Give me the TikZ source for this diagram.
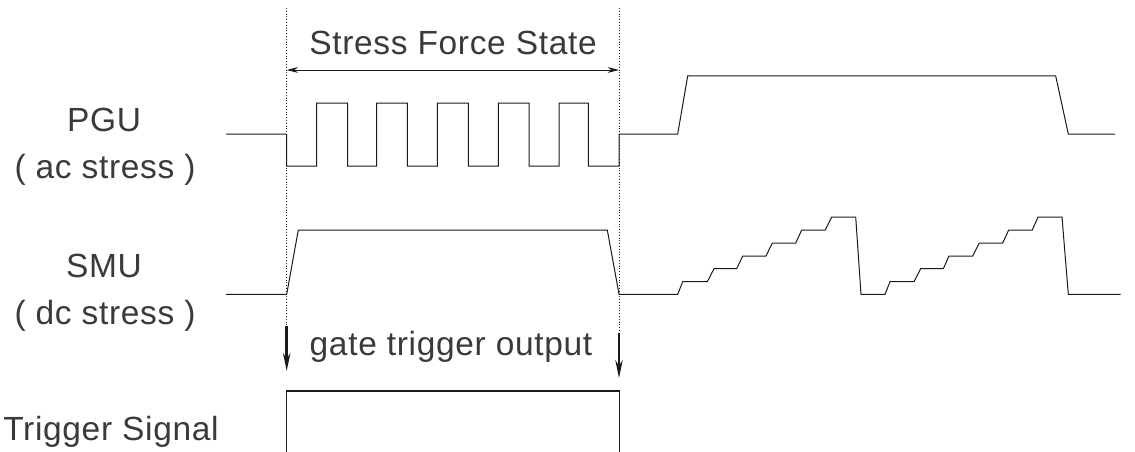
\documentclass[tikz,border=0pt]{standalone}
\usepackage{fontspec}
\setmainfont{Liberation Sans}[LetterSpace=2]
\usepackage{tikz}
\usetikzlibrary{arrows.meta,positioning}
\definecolor{Wave}{HTML}{1A1A1A}
\definecolor{Label}{HTML}{3A3A3A}
\tikzset{
  wave/.style={draw=Wave, line width=1pt, line join=miter},
  guide/.style={draw=Wave, line width=.8pt, dotted},
  span/.style={{Stealth[length=4mm,width=2mm]}-{Stealth[length=4mm,width=2mm]},line width=.9pt,draw=Wave},
  trig/.style={-{Stealth[length=6.3mm,width=2.6mm]},line width=2.5pt,draw=Wave},
  lbl/.style={font=\fontsize{33.5}{36}\selectfont,text=Label,inner sep=0pt}
}
\begin{document}
\begin{tikzpicture}[x=1pt,y=-1pt]
  \useasboundingbox (0,0) rectangle (1135,452);
  % guide lines of the stress window
  \coordinate (Ltop) at (286.7,8);
  \coordinate (Rtop) at (619,8);
  \coordinate (Lbot) at (286.7,326);
  \coordinate (Rbot) at (619,333);
  \coordinate (Lspan) at (286.7,70);
  \coordinate (Rspan) at (619,70);
  \coordinate (Ltip) at (286.7,371);
  \coordinate (Rtip) at (619,378);
  \draw[guide] (Ltop)--(Lbot);
  \draw[guide] (Rtop)--(Rbot);
  \draw[span] (Lspan)--(Rspan);
  \node[lbl] (state) at (453,43) {Stress Force State};
  % channel labels
  \node[lbl] (pgu) at (104,120) {PGU};
  \node[lbl] (ac) at (105,170) {( ac stress )};
  \node[lbl] (smu) at (104,266) {SMU};
  \node[lbl] (dc) at (105,316) {( dc stress )};
  \node[lbl] (trg) at (111,432) {Trigger Signal};
  % PGU waveform
  \draw[wave] (226,134)--(286.7,134)--(286.7,166)--(316.7,166)--(316.7,103)--(347.7,103)
    --(347.7,166)--(376.7,166)--(376.7,103)--(407.3,103)--(407.3,166)--(437.3,166)
    --(437.3,103)--(468.3,103)--(468.3,166)--(498.3,166)--(498.3,103)--(529,103)
    --(529,166)--(559,166)--(559,103)--(588.3,103)--(588.3,166)--(619,166)
    --(619,134)--(677.7,134)--(687.7,76)--(1055.7,76)--(1068.3,134)--(1115,134);
  % SMU waveform
  \draw[wave] (226,294.3)--(286.7,294.3)--(298.3,230)--(607.3,230)--(619,294.3)
    --(677.7,294.3)--(682.7,281.7)--(707.3,281.7)--(714,268.7)--(736.7,268.7)
    --(742.7,256)--(766,256)--(772.3,243)--(795.7,243)--(801.7,230)--(825.3,230)
    --(831.7,217)--(855.7,217)--(861,294.3)--(885,294.3)--(890,281.7)--(914,281.7)
    --(920.7,268.7)--(943.3,268.7)--(949,256)--(972.7,256)--(979.3,243)--(1002.7,243)
    --(1008.7,230)--(1032.3,230)--(1038,217)--(1062,217)--(1068.3,294.3)--(1120.7,294.3);
  % gate trigger
  \draw[trig] (Lbot)--(Ltip);
  \draw[trig] (Rbot)--(Rtip);
  \node[lbl] (gate) at (451,347) {gate trigger output};
  \draw[wave] (286.7,452)--(286.7,390.7);
  \draw[wave] (619,452)--(619,390.7);
  \draw[wave,line width=2.2pt,line cap=rect] (286.7,390.7)--(619,390.7);
\end{tikzpicture}
\end{document}
